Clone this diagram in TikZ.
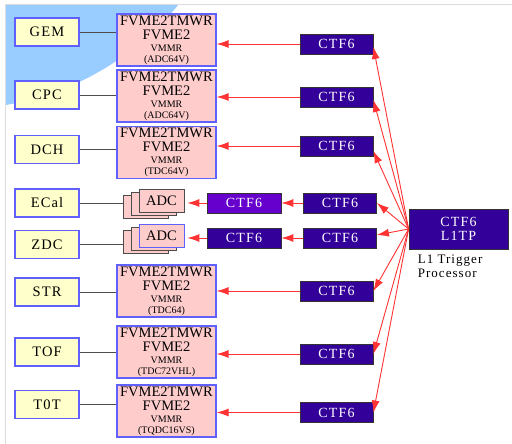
\documentclass[tikz,border=0pt]{standalone}
\usepackage{fontspec}
\setmainfont{Liberation Serif}
\newfontfamily\espace[LetterSpace=8]{Liberation Serif}
\usetikzlibrary{arrows.meta}

\definecolor{fondbleu}{RGB}{153,204,255}
\definecolor{cadre}{RGB}{220,220,220}
\definecolor{jaune}{RGB}{255,255,204}
\definecolor{rose}{RGB}{255,204,204}
\definecolor{bordbleu}{RGB}{96,96,255}
\definecolor{violet}{RGB}{51,0,153}
\definecolor{violetclair}{RGB}{102,0,204}
\definecolor{rouge}{RGB}{255,51,51}

\begin{document}
\begin{tikzpicture}[
    x=1pt, y=-1pt,  % coordonnées en pixels, y vers le bas
    detbox/.style={draw=bordbleu, fill=jaune, line width=1.3pt,
        minimum width=64pt, minimum height=28pt, inner sep=0pt,
        font=\espace\fontsize{14.5}{16}\selectfont},
    vmebox/.style={draw=bordbleu, fill=rose, line width=1.3pt,
        minimum width=99pt, minimum height=52pt, inner sep=0pt,
        align=center, font=\fontsize{14.5}{15}\selectfont},
    adcbox/.style={draw=black!70, fill=rose, line width=0.8pt,
        minimum width=45pt, minimum height=23pt, inner sep=0pt,
        font=\fontsize{14.5}{16}\selectfont},
    ctfbox/.style={draw=black!80, fill=violet, text=white, line width=0.8pt,
        minimum width=73pt, minimum height=20pt, inner sep=0pt,
        font=\espace\fontsize{14}{16}\selectfont},
    fil/.style={draw=black!70, line width=0.9pt},
    trig/.style={draw=rouge, line width=0.9pt, -{Latex[length=12pt,width=8pt]}}
]
% Fond et cadre
\useasboundingbox (0,0) rectangle (512,444);
\fill[white] (0,0) rectangle (512,444);
\begin{scope}
    \clip (5,5) rectangle (512,444);
    \fill[fondbleu] (-42,-176) circle (285pt);
\end{scope}
\draw[cadre, line width=1pt] (5,444) -- (5,5) -- (512,5);

% Processeur L1
\node[ctfbox, minimum width=99pt, minimum height=40pt, align=center] (l1tp) at (458.5,229) {CTF6\\[-2pt]L1TP};
\node[anchor=north west, align=left, inner sep=0pt,
    font=\espace\fontsize{13}{14}\selectfont] (l1label) at ([xshift=9pt,yshift=-5pt]l1tp.south west) {L1 Trigger\\Processor};

% Voies VME
\foreach \nom/\yd/\yv/\yc/\carte in {GEM/32/40/44/ADC64V, CPC/95/96/97/ADC64V,
    DCH/149.5/152.5/146/TDC64V, STR/292/291/291/TDC64,
    TOF/352/352/354/TDC72VHL, T0T/404.5/411/412.5/TQDC16VS}{
    \node[detbox] (\nom) at (47,\yd) {\nom};
    \node[vmebox] (\nom-vme) at (166.5,\yv)
        {FVME2TMWR\\[-1pt]FVME2\\[-3pt]{\fontsize{10}{11}\selectfont VMMR}\\[-4pt]{\fontsize{10}{11}\selectfont(\carte)}};
    \node[ctfbox] (\nom-ctf) at (336.5,\yc) {CTF6};
    \draw[fil] (\nom.east) -- (\nom.east -| \nom-vme.west);
    \draw[trig] (\nom-ctf.west) -- (\nom-ctf.west -| \nom-vme.east);
}

% Voies ADC
\foreach \nom/\yd/\ya/\yc/\bord/\fond in {ECal/203/200.5/203/black!70/violetclair, ZDC/244.5/235.5/238/bordbleu/violet}{
    \node[detbox] (\nom) at (47,\yd) {\nom};
    \node[adcbox] (\nom-adc3) at (145.5,\ya+6) {};
    \node[adcbox] (\nom-adc2) at (153.5,\ya+3) {};
    \node[adcbox, draw=\bord] (\nom-adc) at (161.5,\ya) {ADC};
    \node[ctfbox, fill=\fond, minimum width=74pt] (\nom-mid) at (244,\yc) {CTF6};
    \node[ctfbox] (\nom-ctf) at (340,\yc) {CTF6};
    \draw[fil] (\nom.east) -- (\nom.east -| \nom-adc3.west);
    \draw[trig] (\nom-ctf.west) -- (\nom-mid.east);
    \draw[trig, shorten >=3pt] (\nom-mid.west) -- (\nom-mid.west -| \nom-adc.east);
}

% Liaisons du L1TP
\foreach \nom/\dy in {GEM/-3, CPC/-3, DCH/-5, ECal/0, ZDC/3, STR/0, TOF/0, T0T/0}
    \draw[trig] (l1tp.west) -- ([yshift=\dy pt]\nom-ctf.east);
\end{tikzpicture}
\end{document}
